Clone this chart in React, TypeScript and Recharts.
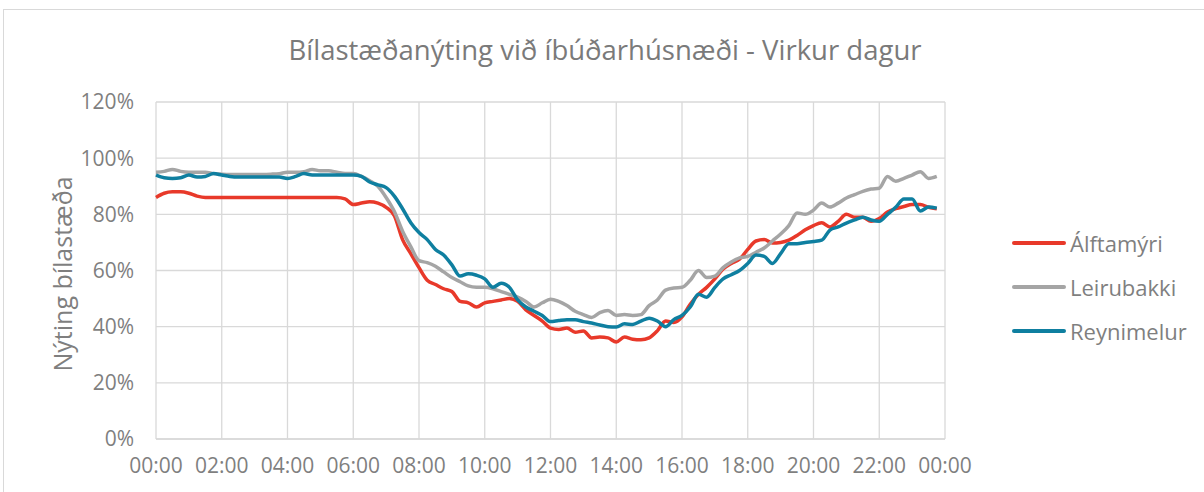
import { LineChart, Line, XAxis, YAxis, CartesianGrid } from 'recharts';

// quarter-hour readings, 00:00 .. 23:45
const hours: number[] = Array.from({ length: 96 }, (_, i) => i / 4);

const alftamyri = [
  86, 87.5, 88, 88, 87.5, 86.5, 86, 86, 86, 86, 86, 86, 86, 86, 86, 86,
  86, 86, 86, 86, 86, 86, 86, 85.5, 83.5, 84, 84.5, 84, 82.5, 79.5, 71, 66,
  61, 56.5, 55, 53.5, 52.5, 49, 48.5, 47, 48.5, 49, 49.5, 50, 49, 46, 44, 42,
  39.5, 39, 39.5, 38, 38.5, 36, 36.3, 36, 34.5, 36.3, 35.5, 35.3, 36, 38.5, 42, 41.5,
  43.5, 48, 51.5, 54, 57, 60.5, 62.5, 64, 67.5, 70.5, 71, 69.8, 70, 70.8, 72.5, 74.5,
  76, 77, 75.5, 77.5, 80, 79, 79, 77.5, 78.5, 80.8, 82, 82.8, 83.5, 83.5, 82.5, 82,
];

const leirubakki = [
  95, 95.3, 96, 95.3, 95, 95, 95, 94.5, 94.3, 94.2, 94.2, 94.2, 94.2, 94.2, 94.3, 94.5,
  95, 95, 95.2, 96, 95.5, 95.5, 95, 94.5, 94.5, 93.5, 92, 90, 86, 81, 74, 68.5,
  63.5, 62.8, 61.5, 59.5, 57.5, 56, 54.5, 54, 54, 53.5, 52.5, 51.5, 50.5, 49, 47, 48.5,
  49.8, 49, 47.5, 45.5, 44.3, 43.3, 45, 45.8, 44, 44.3, 44, 44.3, 47.5, 49.5, 53, 53.8,
  54, 56.5, 60, 57.5, 58, 61, 63, 64.5, 65, 66.5, 68, 70.5, 73, 76, 80.5, 80,
  81.5, 84, 82.6, 84, 85.8, 87, 88.2, 89, 89.3, 93.5, 91.8, 92.8, 94, 95.2, 92.8, 93.5,
];

const reynimelur = [
  94, 93, 92.8, 93, 94, 93.3, 93.5, 94.5, 94, 93.5, 93.3, 93.3, 93.3, 93.3, 93.3, 93.3,
  92.8, 93.5, 94.5, 94, 94, 94, 94, 94, 94, 93.5, 91.5, 90.5, 89.5, 86.5, 82, 77,
  73.5, 71, 67.5, 65.5, 62, 58, 58.8, 58.3, 57, 54, 55.5, 54, 49.5, 47, 45.5, 44,
  41.8, 42.2, 42.5, 42.5, 41.8, 41.3, 40.6, 40, 39.9, 41, 40.8, 42, 43, 42, 40, 42.5,
  44, 47, 51.5, 50.5, 54, 57, 58.5, 60, 62.5, 65.5, 65, 62.5, 66, 69.5, 69.5, 70,
  70.3, 70.8, 74.4, 75.5, 76.9, 78, 79, 78, 77.5, 80, 82.5, 85.5, 85.5, 81.2, 82.6, 82.2,
];

const seriesNames = ['Álftamýri', 'Leirubakki', 'Reynimelur'];
const seriesColors = ['#E8392A', '#A5A5A5', '#0F7FA0'];
const xTicks = [0, 2, 4, 6, 8, 10, 12, 14, 16, 18, 20, 22, 24];
const yTicks = [0, 20, 40, 60, 80, 100, 120];

const data = hours.map((h, i) => ({
  h,
  a: alftamyri[i],
  l: leirubakki[i],
  r: reynimelur[i],
}));

const keys = ['a', 'l', 'r'];
const font = '"Open Sans", sans-serif';

const fmtHour = (v: number) => `${String(v % 24).padStart(2, '0')}:00`;

const App = () => {
  return (
    <div style={{ position: 'absolute', left: 0, top: 0, width: 1204, height: 492, background: '#fff', overflow: 'hidden' }}>
      <div style={{ position: 'absolute', left: 3, top: 9, width: 1220, height: 500, border: '1px solid #D9D9D9' }} />
      <div style={{ position: 'absolute', left: 0, top: 31, width: 1210, textAlign: 'center', fontFamily: font, fontSize: 27.5, color: '#7A7A7A' }}>
        Bílastæðanýting við íbúðarhúsnæði - Virkur dagur
      </div>
      <div style={{ position: 'absolute', left: 62, top: 274, transform: 'translate(-50%, -50%) rotate(-90deg)', whiteSpace: 'nowrap', fontFamily: font, fontSize: 25, color: '#7F7F7F' }}>
        Nýting bílastæða
      </div>
      {/* legend */}
      <div style={{ position: 'absolute', left: 1012, top: 221, fontFamily: font, fontSize: 22, color: '#7F7F7F' }}>
        {seriesNames.map((name, i) => (
          <div key={name} style={{ display: 'flex', alignItems: 'center', height: 44 }}>
            <span style={{ display: 'inline-block', width: 54, height: 4, background: seriesColors[i], borderRadius: 2, marginRight: 4 }} />
            <span>{name}</span>
          </div>
        ))}
      </div>
      <div style={{ position: 'absolute', left: 0, top: 0 }}>
        <LineChart width={1204} height={492} data={data} margin={{ top: 102, right: 259, bottom: 0, left: 0 }}>
          <CartesianGrid stroke="#D9D9D9" strokeWidth={1.3} />
          <XAxis
            dataKey="h"
            type="number"
            domain={[0, 24]}
            ticks={xTicks}
            tickFormatter={fmtHour}
            tickLine={false}
            axisLine={{ stroke: '#D9D9D9', strokeWidth: 1.3 }}
            tickSize={0}
            tickMargin={19}
            tick={{ fill: '#7F7F7F', fontSize: 21, fontFamily: font }}
            interval={0}
            height={53}
          />
          <YAxis
            width={156}
            domain={[0, 120]}
            ticks={yTicks}
            tickFormatter={(v: number) => `${v}%`}
            tickLine={false}
            axisLine={false}
            tickSize={0}
            tickMargin={22}
            tick={{ fill: '#7F7F7F', fontSize: 21, fontFamily: font }}
          />
          {keys.map((k, i) => (
            <Line
              key={k}
              dataKey={k}
              name={seriesNames[i]}
              type="monotone"
              stroke={seriesColors[i]}
              strokeWidth={3.5}
              dot={false}
              isAnimationActive={false}
            />
          ))}
        </LineChart>
      </div>
    </div>
  );
};

export default App;
